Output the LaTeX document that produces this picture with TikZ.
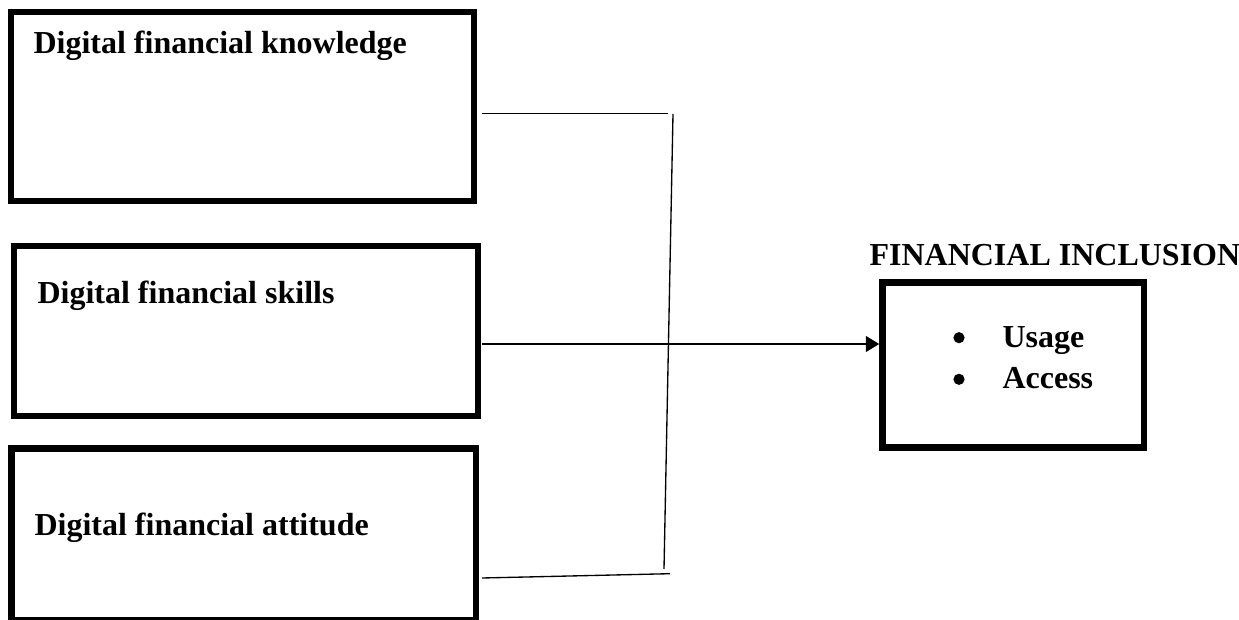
\documentclass[tikz,border=0pt]{standalone}
\usepackage{fontspec}
\setmainfont{Liberation Serif}
\usetikzlibrary{arrows.meta}
\begin{document}
\begin{tikzpicture}[x=0.375pt,y=-0.375pt,
  box/.style={draw=black,line width=2.4pt,inner sep=0pt,fill=none},
  lbl/.style={anchor=base west,inner sep=0pt,font=\fontsize{12}{14}\selectfont\bfseries},
  dot/.style={circle,fill=black,inner sep=0pt,minimum size=4.2pt},
  thin/.style={draw=black,line width=0.5pt},
  arr/.style={draw=black,line width=0.85pt,-{Triangle[length=5pt,width=5.8pt]}}]
\useasboundingbox (0,0) rectangle (1239,620);
% boxes
\node[box,minimum width={463*0.375pt},minimum height={189*0.375pt}] (b1) at (242.5,106.5) {};
\node[box,minimum width={464*0.375pt},minimum height={170*0.375pt}] (b2) at (246,331) {};
\node[box,minimum width={464.5*0.375pt},minimum height={172*0.375pt}] (b3) at (243.75,534.5) {};
\node[box,minimum width={261.5*0.375pt},minimum height={165*0.375pt}] (rb) at (1013.25,365) {};
% texts
\node[lbl] (t1) at (33,54) {Digital financial knowledge};
\node[lbl] (t2) at (37,303) {Digital financial skills};
\node[lbl] (t3) at (34,535) {Digital financial attitude};
\node[lbl] (t4) at (869,265) {FINANCIAL INCLUSION};
\node[dot] (bu1) at (959,337.7) {};
\node[lbl] (u1) at (1002,347) {Usage};
\node[dot] (bu2) at (959,379.3) {};
\node[lbl] (u2) at (1002,388) {Access};
% connectors
\coordinate (k1) at (482,113.7);
\coordinate (c1) at (668,113.7);
\coordinate (v1) at (673,114);
\coordinate (v2) at (664,569);
\coordinate (k3) at (482,578);
\coordinate (c3) at (670,573.7);
\coordinate (a0) at (482,344);
\draw[thin] (k1) -- (c1);
\draw[thin] (v1) -- (v2);
\draw[thin] (k3) -- (c3);
\draw[arr] (a0) -- (rb.west |- a0);
\end{tikzpicture}
\end{document}
